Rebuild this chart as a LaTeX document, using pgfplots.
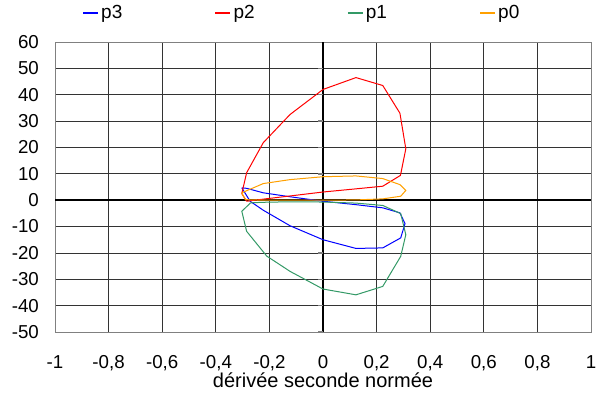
\documentclass[border=0pt]{standalone}
\usepackage{pgfplots}
\pgfplotsset{compat=1.18}
\usepackage{fontspec}
\setmainfont{Liberation Sans}
\definecolor{cpthree}{RGB}{0,0,255}
\definecolor{cptwo}{RGB}{255,0,0}
\definecolor{cpone}{RGB}{51,153,102}
\definecolor{cpzero}{RGB}{255,160,0}
\begin{document}
\begin{tikzpicture}
\begin{axis}[
  at={(0,0)}, anchor=south west,
  scale only axis, width=536bp, height=290bp,
  xmin=-1, xmax=1, ymin=-50, ymax=60,
  xtick={-1,-0.8,-0.6,-0.4,-0.2,0,0.2,0.4,0.6,0.8,1},
  ytick={-50,-40,-30,-20,-10,0,10,20,30,40,50,60},
  grid=major,
  major grid style={black!80, line width=0.7bp},
  axis line style={gray, line width=1bp},
  major tick length=0pt,
  extra x ticks={0}, extra y ticks={0},
  extra x tick labels={}, extra y tick labels={},
  extra tick style={grid=major, major grid style={black, line width=1.6bp}},
  /pgf/number format/assume math mode=true,
  /pgf/number format/use comma,
  tick label style={font=\fontsize{18.7bp}{22bp}\selectfont},
  yticklabel style={anchor=east, inner sep=0pt, xshift=-16bp},
  xticklabel style={anchor=north, inner sep=0pt, yshift=-23bp},
  xlabel={dérivée seconde normée},
  xlabel style={font=\fontsize{20bp}{24bp}\selectfont, at={(axis description cs:0.5,0)}, anchor=base, yshift=-55bp, inner sep=0pt},
  legend columns=4,
  legend style={draw=white, at={(0.051,1.1)}, anchor=west, inner sep=0pt,
    font=\fontsize{19bp}{22bp}\selectfont,
    nodes={inner sep=2.5bp},
    /tikz/every even column/.append style={column sep=90bp}},
  legend image code/.code={\draw[line width=1.2bp] (0bp,0bp) -- (15bp,0bp);},
  every axis plot/.append style={line width=1bp},
]
\draw[gray, line width=1.5bp] (axis cs:0,-50) -- ([xshift=-5bp]axis cs:0,-50);
\draw[gray, line width=1.5bp] (axis cs:0,-40) -- ([xshift=-5bp]axis cs:0,-40);
\draw[gray, line width=1.5bp] (axis cs:0,-30) -- ([xshift=-5bp]axis cs:0,-30);
\draw[gray, line width=1.5bp] (axis cs:0,-20) -- ([xshift=-5bp]axis cs:0,-20);
\draw[gray, line width=1.5bp] (axis cs:0,-10) -- ([xshift=-5bp]axis cs:0,-10);
\draw[gray, line width=1.5bp] (axis cs:0,10) -- ([xshift=-5bp]axis cs:0,10);
\draw[gray, line width=1.5bp] (axis cs:0,20) -- ([xshift=-5bp]axis cs:0,20);
\draw[gray, line width=1.5bp] (axis cs:0,30) -- ([xshift=-5bp]axis cs:0,30);
\draw[gray, line width=1.5bp] (axis cs:0,40) -- ([xshift=-5bp]axis cs:0,40);
\draw[gray, line width=1.5bp] (axis cs:0,50) -- ([xshift=-5bp]axis cs:0,50);
\addplot[color=cpthree] coordinates {
(-0.303,4.7) (-0.285,4.5) (-0.223,2.8) (-0.123,1.3) (0,-0.4) (0.123,-1.7) (0.223,-2.9) (0.287,-4.8) (0.306,-8.9) (0.29,-14.3) (0.223,-18.1) (0.123,-18.3) (0,-15) (-0.123,-9.7) (-0.223,-3.8) (-0.272,-0.4) (-0.303,4.7)
};
\addlegendentry{p3}
\addplot[color=cptwo] coordinates {
(-0.285,-0.4) (-0.223,0.4) (-0.123,1.6) (0,3.1) (0.123,4.3) (0.223,5.3) (0.289,9.4) (0.309,19.5) (0.287,33) (0.223,43.5) (0.123,46.5) (0,42) (-0.123,32.5) (-0.223,21.8) (-0.285,10.4) (-0.303,2.5) (-0.285,-0.4)
};
\addlegendentry{p2}
\addplot[color=cpone] coordinates {
(-0.27,-1) (-0.303,-4.2) (-0.285,-11.8) (-0.21,-21.2) (-0.123,-27) (0,-33.7) (0.123,-35.9) (0.223,-32.7) (0.29,-21.3) (0.309,-13.1) (0.29,-5.1) (0.223,-2) (0.123,-1.1) (0,-0.7) (-0.123,-0.6) (-0.223,-0.8) (-0.27,-1)
};
\addlegendentry{p1}
\addplot[color=cpzero] coordinates {
(-0.303,2.8) (-0.223,6.3) (-0.123,7.8) (0,8.9) (0.123,9.2) (0.223,8.2) (0.287,5.9) (0.309,3.7) (0.29,1.5) (0.223,0.5) (0.123,0.1) (0,0) (-0.123,0) (-0.223,0) (-0.29,0.2) (-0.303,2.8)
};
\addlegendentry{p0}
\end{axis}
\pgfresetboundingbox
\path[use as bounding box] (-55bp,-62bp) rectangle (543bp,332bp);
\end{tikzpicture}
\end{document}
